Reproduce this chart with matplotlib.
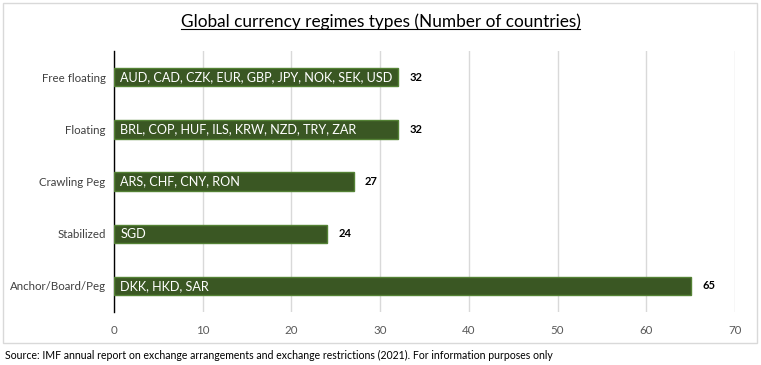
import matplotlib.pyplot as plt
from matplotlib.patches import Rectangle
from matplotlib.lines import Line2D

regimes = ['Free floating', 'Floating', 'Crawling Peg', 'Stabilized', 'Anchor/Board/Peg']
counts = [32, 32, 27, 24, 65]
currencies = ['AUD, CAD, CZK, EUR, GBP, JPY, NOK, SEK, USD',
              'BRL, COP, HUF, ILS, KRW, NZD, TRY, ZAR',
              'ARS, CHF, CNY, RON',
              'SGD',
              'DKK, HKD, SAR']
xticks = [0, 10, 20, 30, 40, 50, 60, 70]

plt.rcParams['font.family'] = ['Lato', 'DejaVu Sans']

fig = plt.figure(figsize=(7.61, 3.65), dpi=100)
ax = fig.add_axes([0.1498, 0.145, 0.816, 0.715])

ypos = list(range(len(regimes)))
ax.barh(ypos, counts, height=0.35, color='#3a5723', edgecolor='#548235', linewidth=1, zorder=3)

for y, c, cur in zip(ypos, counts, currencies):
    ax.text(0.7, y, cur, color='white', fontsize=9.1, va='center', ha='left', zorder=4)
    ax.text(c + 1.3, y, str(c), color='black', fontsize=8, fontweight='bold', va='center', ha='left')

ax.set_ylim(4.5, -0.5)
ax.set_xlim(0, 70)
ax.set_yticks(ypos)
ax.set_yticklabels(regimes, fontsize=8.3, color='#404040')
ax.set_xticks(xticks)
ax.set_xticklabels([str(t) for t in xticks], fontsize=8.3, color='#595959')
ax.tick_params(length=0, pad=6)
ax.tick_params(axis='x', pad=9)
ax.grid(axis='x', color='#d9d9d9', linewidth=1, zorder=0)
for s in ['top', 'right', 'bottom']:
    ax.spines[s].set_visible(False)
ax.spines['left'].set_color('black')
ax.spines['left'].set_linewidth(1)

# chart frame
fig.patches.append(Rectangle((3 / 761, 1 - 343 / 365), 754 / 761, 340 / 365,
                             transform=fig.transFigure, fill=False,
                             edgecolor='#d9d9d9', linewidth=1))

t = fig.text(0.5, 1 - 22 / 365, 'Global currency regimes types (Number of countries)',
             ha='center', va='center', fontsize=12.4, color='black')
fig.canvas.draw()
bb = t.get_window_extent().transformed(fig.transFigure.inverted())
fig.lines.append(Line2D([bb.x0, bb.x1], [bb.y0 + 0.004, bb.y0 + 0.004],
                        transform=fig.transFigure, color='black', linewidth=0.8))

fig.text(5 / 761, 1 - 355 / 365,
         'Source: IMF annual report on exchange arrangements and exchange restrictions (2021). For information purposes only',
         ha='left', va='center', fontsize=7.6, color='black')

fig.savefig('out.png', dpi=100)
